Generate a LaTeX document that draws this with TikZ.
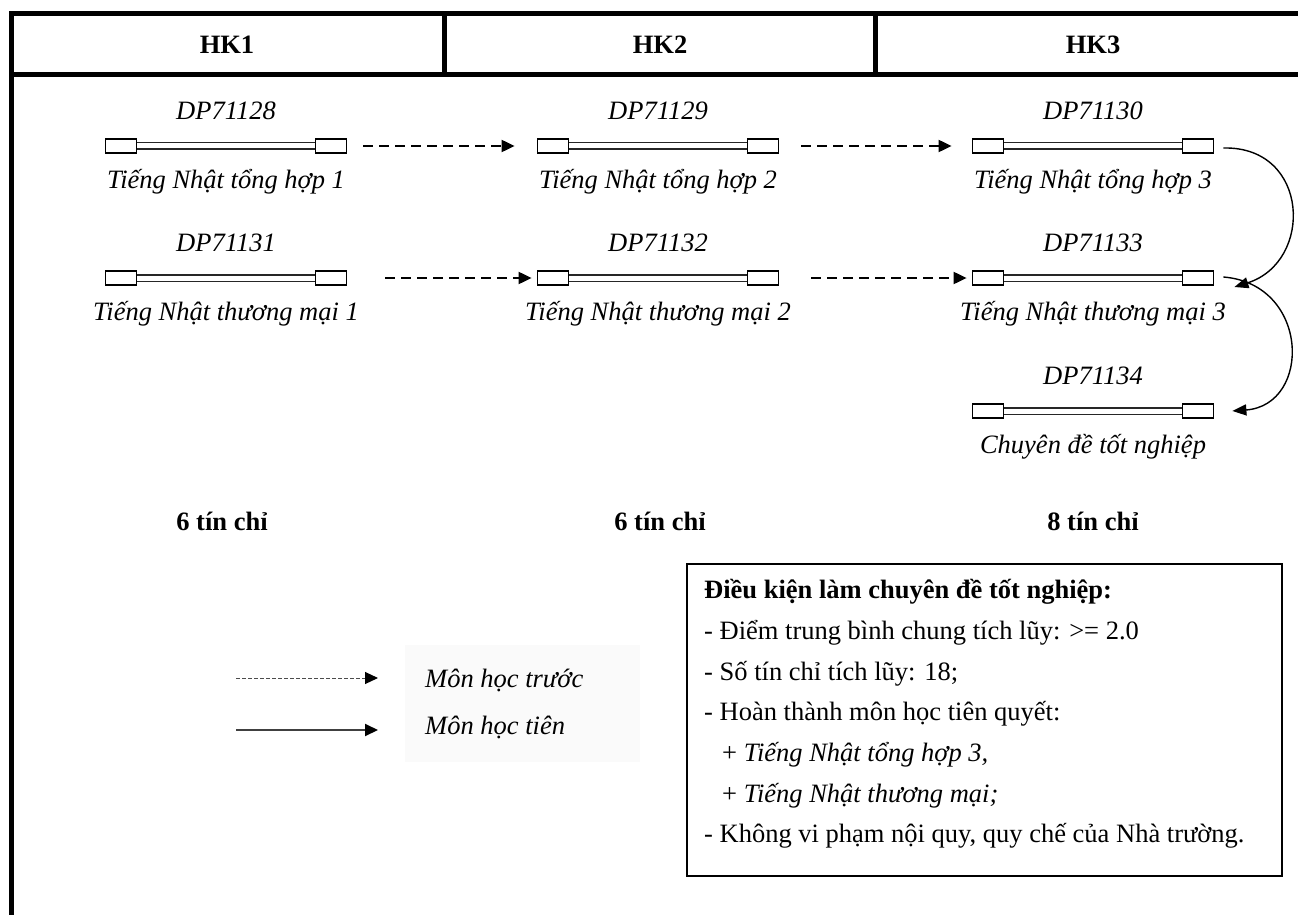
\documentclass[tikz,border=0pt]{standalone}
\usepackage{fontspec}
\setmainfont{Liberation Serif}
\usetikzlibrary{arrows.meta}
\newcommand{\fsA}{\fontsize{26.5}{30}\selectfont}
\newcommand{\fsB}{\fontsize{26.5}{30}\selectfont}
\tikzset{
  frameline/.style={line width=5pt, line cap=rect},
  endbox/.style={draw, line width=1.8pt, rectangle, minimum width=31pt, minimum height=14pt, inner sep=0pt, fill=white},
  barline/.style={draw=black!85, line width=1.3pt, double=white, double distance=5pt},
  codetext/.style={font=\fsA\itshape, inner sep=0pt},
  nametext/.style={font=\fsA\itshape, inner sep=0pt},
  headtext/.style={font=\fsA\bfseries, inner sep=0pt},
  credtext/.style={font=\fsA\bfseries, inner sep=0pt},
  dasharrow/.style={line width=2pt, dash pattern=on 10pt off 6pt, -{Triangle[length=13pt,width=12pt]}},
  curvearrow/.style={line width=1.4pt, -{Triangle[length=14pt,width=11pt]}},
  boxtext/.style={font=\fsB, inner sep=0pt, anchor=west},
}
\newcommand{\course}[5]{% name, cx, y, code, title
  \node[endbox] (#1L) at (#2-105,#3) {};
  \node[endbox] (#1R) at (#2+105,#3) {};
  \draw[barline] (#1L.east) -- (#1R.west);
  \node[codetext] (#1C) at (#2,#3-35) {#4};
  \node[nametext] (#1N) at (#2,#3+36) {#5};
}
\begin{document}
\begin{tikzpicture}[x=1pt,y=-1pt]
\useasboundingbox (0,0) rectangle (1298,915);
% frame
\draw[frameline] (11,14) -- (1305,14);
\draw[frameline] (11,75) -- (1305,75);
\draw[frameline] (11,14) -- (11,920);
\draw[frameline] (444,14) -- (444,75);
\draw[frameline] (875,14) -- (875,75);
\node[headtext] (h1) at (227,45) {HK1};
\node[headtext] (h2) at (660,45) {HK2};
\node[headtext] (h3) at (1093,45) {HK3};
% courses
\course{a1}{226}{146}{DP71128}{Tiếng Nhật tổng hợp 1}
\course{b1}{658}{146}{DP71129}{Tiếng Nhật tổng hợp 2}
\course{c1}{1093}{146}{DP71130}{Tiếng Nhật tổng hợp 3}
\course{a2}{226}{278}{DP71131}{Tiếng Nhật thương mại 1}
\course{b2}{658}{278}{DP71132}{Tiếng Nhật thương mại 2}
\course{c2}{1093}{278}{DP71133}{Tiếng Nhật thương mại 3}
\course{c3}{1093}{411}{DP71134}{Chuyên đề tốt nghiệp}
% arrows
\draw[dasharrow, shorten <=16pt, shorten >=22pt] (a1R.east) -- (b1L.west);
\draw[dasharrow, shorten <=22pt, shorten >=20pt] (b1R.east) -- (c1L.west);
\draw[dasharrow, shorten <=38pt, shorten >=5pt] (a2R.east) -- (b2L.west);
\draw[dasharrow, shorten <=32pt, shorten >=5pt] (b2R.east) -- (c2L.west);
\draw[curvearrow] ([xshift=9pt,yshift=-2pt]c1R.east) .. controls (1310,146) and (1314,262) .. ([xshift=20pt,yshift=-9pt]c2R.east);
\draw[curvearrow] ([xshift=9pt,yshift=1pt]c2R.east) .. controls (1310,284) and (1312,405) .. ([xshift=18pt,yshift=0pt]c3R.east);
% credits
\node[credtext] (cr1) at (222,521) {6 tín chỉ};
\node[credtext] (cr2) at (660,521) {6 tín chỉ};
\node[credtext] (cr3) at (1093,521) {8 tín chỉ};
% legend
\fill[black!2] (405,645) rectangle (640,762);
\coordinate (l1a) at (236,678);
\coordinate (l1b) at (378,678);
\coordinate (l2a) at (236,730);
\coordinate (l2b) at (378,730);
\draw[line width=1pt, black!70, dash pattern=on 4pt off 2pt, -{Triangle[length=13pt,width=12pt,black]}] (l1a) -- (l1b);
\draw[line width=2pt, black!75, -{Triangle[length=13pt,width=12pt,black]}] (l2a) -- (l2b);
\node[boxtext, font=\fsB\itshape] (lg1) at (425,680) {Môn học trước};
\node[boxtext, font=\fsB\itshape] (lg2) at (425,727) {Môn học tiên};
% condition box
\node[draw, line width=2pt, minimum width=595pt, minimum height=312pt, anchor=north west, inner sep=0pt] (cbox) at (686,563) {};
\node[boxtext, font=\fsB\bfseries] (t0) at (704,592) {Điều kiện làm chuyên đề tốt nghiệp:};
\node[boxtext] (t1) at (704,633) {- Điểm trung bình chung tích lũy: >= 2.0};
\node[boxtext] (t2) at (704,674) {- Số tín chỉ tích lũy: 18;};
\node[boxtext] (t3) at (704,714) {- Hoàn thành môn học tiên quyết:};
\node[boxtext] (t4) at (722,755) {+ \textit{Tiếng Nhật tổng hợp 3,}};
\node[boxtext] (t5) at (722,796) {+ \textit{Tiếng Nhật thương mại;}};
\node[boxtext] (t6) at (704,836) {- Không vi phạm nội quy, quy chế của Nhà trường.};
\end{tikzpicture}
\end{document}
